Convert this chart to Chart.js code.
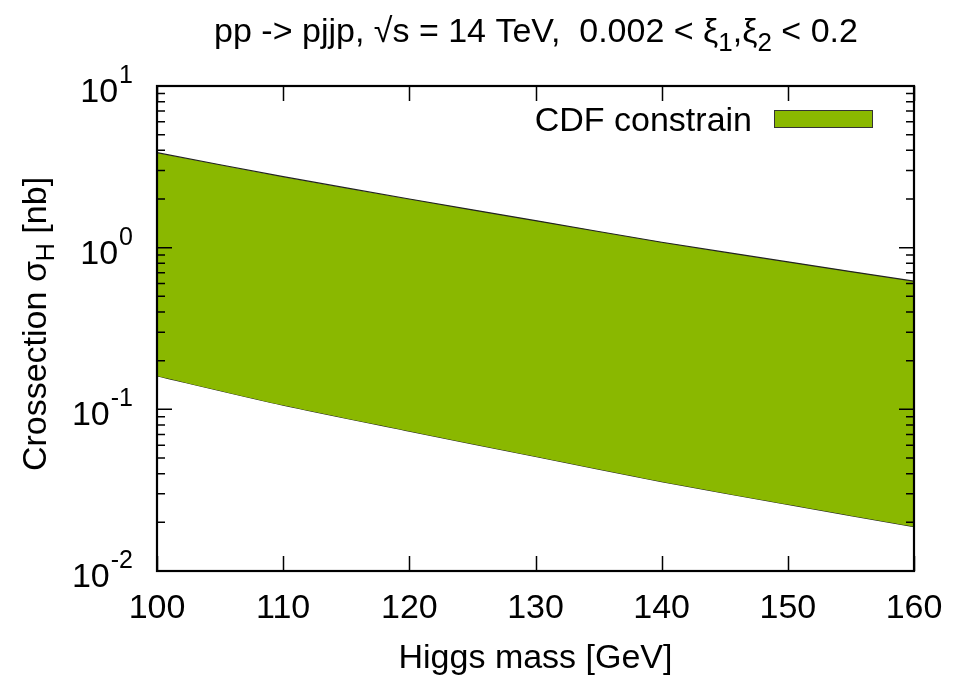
<!DOCTYPE html>
<html>
<head>
<meta charset="utf-8">
<script src="https://cdn.jsdelivr.net/npm/chart.js@4.4.1/dist/chart.umd.min.js"></script>
<style>
html,body{margin:0;padding:0;background:#fff;}
canvas{display:block;}
</style>
</head>
<body>
<canvas id="c" width="953" height="677"></canvas>
<script>
// ---- data ----
const higgsMass = [100, 110, 120, 130, 140, 150, 160];
const upperBound = [3.87, 2.75, 2.00, 1.47, 1.08, 0.817, 0.62];
const lowerBound = [0.161, 0.106, 0.0733, 0.0511, 0.0357, 0.0258, 0.0188];
const xTicks = [100, 110, 120, 130, 140, 150, 160];
const yDecades = [-2, -1, 0, 1];
const legendLabel = "CDF constrain";
const fillColor = "#8ab800";

const FONT = "'Liberation Sans', Arial, sans-serif";

function txt(ctx, s, x, y, size, align) {
  ctx.save();
  ctx.font = size + "px " + FONT;
  const w = ctx.measureText(s).width;
  let x0 = x;
  if (align === "center") x0 = x - w / 2;
  else if (align === "right") x0 = x - w;
  ctx.textAlign = "left";
  ctx.textBaseline = "alphabetic";
  ctx.fillStyle = "#000";
  ctx.fillText(s, x0, y);
  ctx.restore();
  return w;
}
function width(ctx, s, size) {
  ctx.save();
  ctx.font = size + "px " + FONT;
  const w = ctx.measureText(s).width;
  ctx.restore();
  return w;
}

const deco = {
  id: "deco",
  afterDraw(chart) {
    const ctx = chart.ctx;
    const xs = chart.scales.x, ys = chart.scales.y;
    const L = chart.chartArea.left, R = chart.chartArea.right;
    const T = chart.chartArea.top, B = chart.chartArea.bottom;
    ctx.save();
    ctx.strokeStyle = "#000";
    ctx.lineCap = "butt";
    ctx.lineWidth = 1.5;
    ctx.beginPath();
    xTicks.forEach(v => {
      const px = Math.round(xs.getPixelForValue(v)) + 0.5;
      ctx.moveTo(px, B); ctx.lineTo(px, B - 15);
      ctx.moveTo(px, T); ctx.lineTo(px, T + 15);
    });
    for (let d = -2; d <= 1; d++) {
      const py = ys.getPixelForValue(Math.pow(10, d));
      ctx.moveTo(L, py); ctx.lineTo(L + 15, py);
      ctx.moveTo(R, py); ctx.lineTo(R - 15, py);
      if (d < 1) {
        for (let m = 2; m <= 9; m++) {
          const pm = ys.getPixelForValue(m * Math.pow(10, d));
          ctx.moveTo(L, pm); ctx.lineTo(L + 8, pm);
          ctx.moveTo(R, pm); ctx.lineTo(R - 8, pm);
        }
      }
    }
    ctx.stroke();
    ctx.lineWidth = 2.2;
    ctx.strokeRect(L, T, R - L, B - T);
    ctx.restore();

    // x tick labels
    xTicks.forEach(v => {
      txt(ctx, String(v), xs.getPixelForValue(v), 618, 34, "center");
    });
    // y tick labels 10^n
    yDecades.forEach(d => {
      const py = ys.getPixelForValue(Math.pow(10, d));
      const sup = String(d);
      const ws = width(ctx, sup, 25);
      const rightEdge = 133;
      txt(ctx, sup, rightEdge, py - 3, 25, "right");
      txt(ctx, "10", rightEdge - ws - 1, py + 16, 34, "right");
    });
    // x axis title
    txt(ctx, "Higgs mass [GeV]", (L + R) / 2, 668, 34, "center");
    // y axis title (rotated)
    ctx.save();
    ctx.translate(46, 324);
    ctx.rotate(-Math.PI / 2);
    const p1 = "Crossection \u03C3", p2 = "H", p3 = " [nb]";
    const w1 = width(ctx, p1, 34), w2 = width(ctx, p2, 25), w3 = width(ctx, p3, 34);
    let sx = -(w1 + w2 + w3) / 2;
    txt(ctx, p1, sx, 0, 34, "left"); sx += w1;
    txt(ctx, p2, sx, 8, 25, "left"); sx += w2;
    txt(ctx, p3, sx, 0, 34, "left");
    ctx.restore();
    // title
    const parts = [
      ["pp -> pjjp, \u221As = 14 TeV,  0.002 < \u03BE", 34, 0],
      ["1", 26, 9],
      [",\u03BE", 34, 0],
      ["2", 26, 9],
      [" < 0.2", 34, 0]
    ];
    let tw = 0;
    parts.forEach(p => tw += width(ctx, p[0], p[1]));
    let tx = 536 - tw / 2;
    parts.forEach(p => { txt(ctx, p[0], tx, 42 + p[2], p[1], "left"); tx += width(ctx, p[0], p[1]); });
    // legend
    txt(ctx, legendLabel, 752, 131, 34, "right");
    ctx.save();
    ctx.fillStyle = fillColor;
    ctx.fillRect(774, 110, 99, 18);
    ctx.strokeStyle = "#333";
    ctx.lineWidth = 1;
    ctx.strokeRect(774.5, 110.5, 98, 17);
    ctx.restore();
  }
};

new Chart(document.getElementById("c"), {
  type: "line",
  data: {
    labels: higgsMass,
    datasets: [
      {
        label: legendLabel,
        data: higgsMass.map((m, i) => ({ x: m, y: upperBound[i] })),
        borderColor: "#222",
        borderWidth: 1.2,
        backgroundColor: fillColor,
        fill: "+1",
        pointRadius: 0,
        tension: 0.25
      },
      {
        label: "lower",
        data: higgsMass.map((m, i) => ({ x: m, y: lowerBound[i] })),
        borderColor: "#222",
        borderWidth: 1.2,
        backgroundColor: fillColor,
        fill: false,
        pointRadius: 0,
        tension: 0.25
      }
    ]
  },
  options: {
    responsive: false,
    animation: false,
    layout: { padding: { left: 157, right: 39, top: 86, bottom: 106 } },
    plugins: { legend: { display: false }, title: { display: false }, tooltip: { enabled: false } },
    scales: {
      x: { type: "linear", min: 100, max: 160, display: false },
      y: { type: "logarithmic", min: 0.01, max: 10, display: false }
    }
  },
  plugins: [deco]
});
</script>
</body>
</html>
